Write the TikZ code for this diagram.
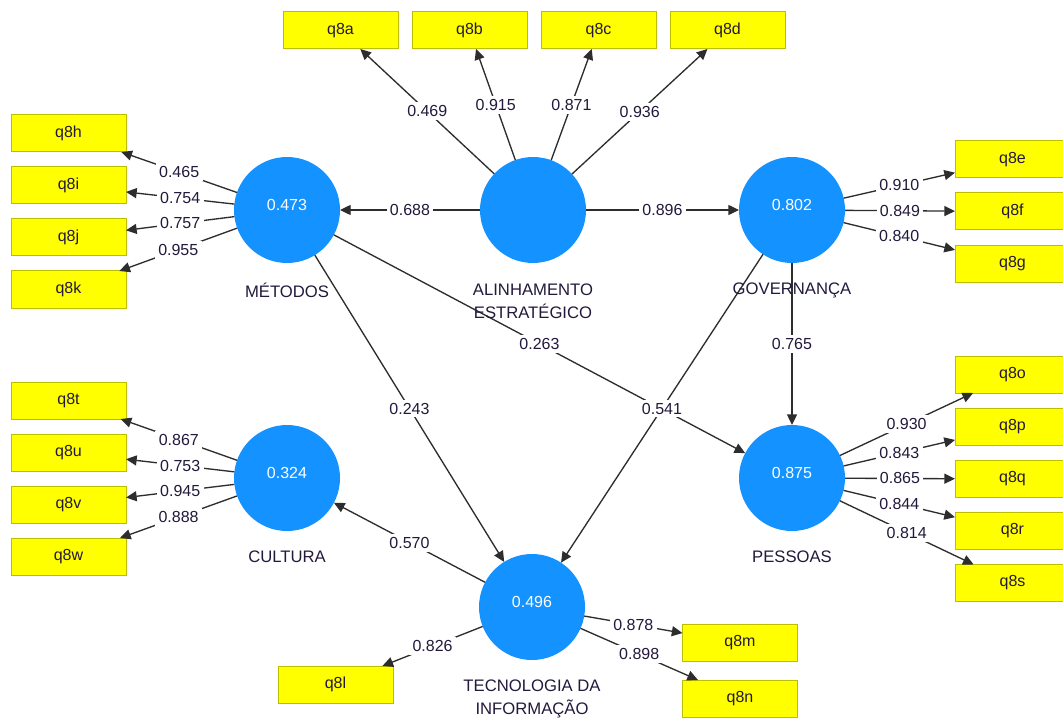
\documentclass[tikz,border=0pt]{standalone}
\usepackage{fontspec}
\setmainfont{Liberation Sans}
\usetikzlibrary{arrows.meta}
\definecolor{lvblue}{RGB}{20,146,255}
\definecolor{mvyellow}{RGB}{255,255,0}
\definecolor{mvborder}{RGB}{190,190,0}
\definecolor{txt}{RGB}{35,25,60}
\definecolor{edgecol}{RGB}{45,45,45}
\begin{document}
\begin{tikzpicture}[x=0.75pt,y=-0.75pt,
  lv/.style={circle,fill=lvblue,draw=none,minimum size=79.5pt,inner sep=0pt,outer sep=0pt,
    text=white,font=\fontsize{12}{14}\selectfont,text depth=7pt},
  mv/.style={rectangle,fill=mvyellow,draw=mvborder,line width=0.75pt,minimum width=86.25pt,
    minimum height=27.75pt,inner sep=0pt,outer sep=0pt,text=txt,font=\fontsize{12}{14}\selectfont},
  lvname/.style={text=txt,font=\fontsize{12.5}{17.25}\selectfont,align=center,inner sep=0pt},
  conn/.style={draw=edgecol,line width=1pt,-{Triangle[length=8pt,width=7.5pt]}},
  wt/.style={fill=white,text=txt,font=\fontsize{12}{14}\selectfont,inner sep=2.5pt,pos=0.5}]
\useasboundingbox (0,0) rectangle (1063,720);
\fill[white] (0,0) rectangle (1063,720);

% latent variables
\node[lv] (al) at (533,210) {};
\node[lv] (me) at (287,210) {0.473};
\node[lv] (go) at (792,210) {0.802};
\node[lv] (pe) at (792,478) {0.875};
\node[lv] (cu) at (287,478) {0.324};
\node[lv] (ti) at (532,607) {0.496};

% indicators
\node[mv] (q8a) at (340.5,30.5) {q8a};
\node[mv] (q8b) at (469.5,30.5) {q8b};
\node[mv] (q8c) at (598.5,30.5) {q8c};
\node[mv] (q8d) at (727.5,30.5) {q8d};
\node[mv] (q8h) at (68.5,133.5) {q8h};
\node[mv] (q8i) at (68.5,185.5) {q8i};
\node[mv] (q8j) at (68.5,237.5) {q8j};
\node[mv] (q8k) at (68.5,289.5) {q8k};
\node[mv] (q8t) at (68.5,400.5) {q8t};
\node[mv] (q8u) at (68.5,452.5) {q8u};
\node[mv] (q8v) at (68.5,504.5) {q8v};
\node[mv] (q8w) at (68.5,556.5) {q8w};
\node[mv] (q8e) at (1012.5,159.5) {q8e};
\node[mv] (q8f) at (1012.5,211.5) {q8f};
\node[mv] (q8g) at (1012.5,264) {q8g};
\node[mv] (q8o) at (1012.5,374.5) {q8o};
\node[mv] (q8p) at (1012.5,426.5) {q8p};
\node[mv] (q8q) at (1012.5,479) {q8q};
\node[mv] (q8r) at (1012.5,531) {q8r};
\node[mv] (q8s) at (1012.5,583) {q8s};
\node[mv] (q8l) at (335.5,684.5) {q8l};
\node[mv] (q8m) at (740,643) {q8m};
\node[mv] (q8n) at (740,698.5) {q8n};

% outer loadings
\draw[conn] (al) -- (q8a) node[wt] {0.469};
\draw[conn] (al) -- (q8b) node[wt] {0.915};
\draw[conn] (al) -- (q8c) node[wt] {0.871};
\draw[conn] (al) -- (q8d) node[wt] {0.936};
\draw[conn] (me) -- (q8h) node[wt] {0.465};
\draw[conn] (me) -- (q8i) node[wt] {0.754};
\draw[conn] (me) -- (q8j) node[wt] {0.757};
\draw[conn] (me) -- (q8k) node[wt] {0.955};
\draw[conn] (cu) -- (q8t) node[wt] {0.867};
\draw[conn] (cu) -- (q8u) node[wt] {0.753};
\draw[conn] (cu) -- (q8v) node[wt] {0.945};
\draw[conn] (cu) -- (q8w) node[wt] {0.888};
\draw[conn] (go) -- (q8e) node[wt] {0.910};
\draw[conn] (go) -- (q8f) node[wt] {0.849};
\draw[conn] (go) -- (q8g) node[wt] {0.840};
\draw[conn] (pe) -- (q8o) node[wt] {0.930};
\draw[conn] (pe) -- (q8p) node[wt] {0.843};
\draw[conn] (pe) -- (q8q) node[wt] {0.865};
\draw[conn] (pe) -- (q8r) node[wt] {0.844};
\draw[conn] (pe) -- (q8s) node[wt] {0.814};
\draw[conn] (ti) -- (q8l) node[wt] {0.826};
\draw[conn] (ti) -- (q8m) node[wt] {0.878};
\draw[conn] (ti) -- (q8n) node[wt] {0.898};

% path coefficients
\draw[conn] (al) -- (me) node[wt] {0.688};
\draw[conn] (al) -- (go) node[wt] {0.896};
\draw[conn] (me) -- (pe) node[wt] {0.263};
\draw[conn] (me) -- (ti) node[wt] {0.243};
\draw[conn] (go) -- (pe) node[wt] {0.765};
\draw[conn] (go) -- (ti) node[wt] {0.541};
\draw[conn] (ti) -- (cu) node[wt] {0.570};

% construct names
\node[lvname] (nme) at (287,290) {MÉTODOS};
\node[lvname] (nal) at (533,301.5) {ALINHAMENTO\\ESTRATÉGICO};
\node[lvname] (ngo) at (792,290) {GOVERNANÇA};
\node[lvname] (ncu) at (287,557) {CULTURA};
\node[lvname] (npe) at (792,557) {PESSOAS};
\node[lvname] (nti) at (532,698.5) {TECNOLOGIA DA\\INFORMAÇÃO};
\end{tikzpicture}
\end{document}
